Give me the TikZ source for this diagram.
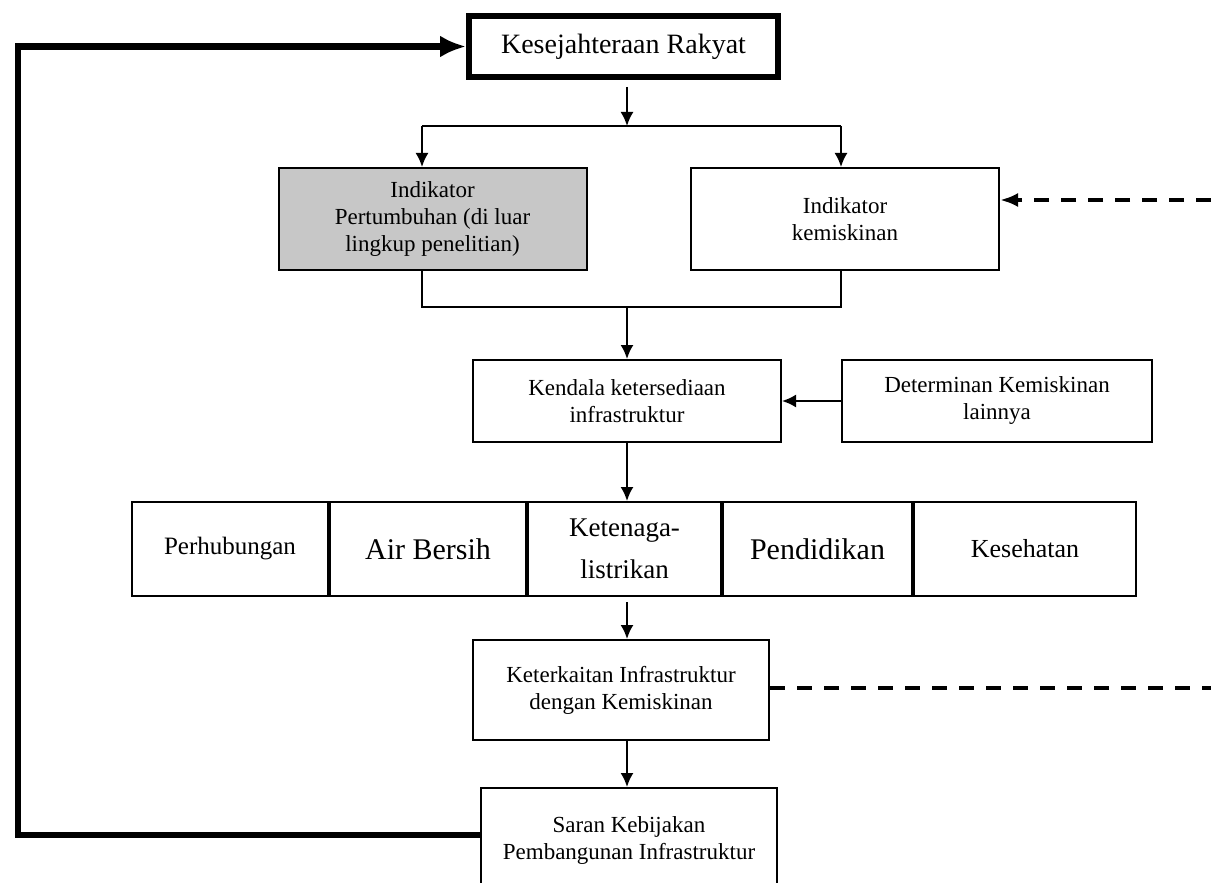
\documentclass[tikz,border=0pt]{standalone}
\usepackage{fontspec}
\setmainfont{Liberation Serif}
\usetikzlibrary{calc,arrows.meta}
\definecolor{shade}{gray}{0.78}

\begin{document}
\begin{tikzpicture}[x=0.5pt, y=-0.5pt, >={Latex[length=7pt,width=6.5pt]},
    box/.style={rectangle, draw, line width=1pt, align=center, inner sep=0pt,
      font=\fontsize{11.5}{13.5}\selectfont},
    cell/.style={box, minimum height=47pt},
    link/.style={line width=1pt, ->},
    feedback/.style={line width=3.3pt, -{Latex[length=13pt,width=11pt]}},
    dashline/.style={line width=2pt, dash pattern=on 7.5pt off 6pt}]

  \useasboundingbox (0,0) rectangle (1211,883);
  \clip (0,0) rectangle (1211,883);

  % boxes
  \node[box, line width=3pt, minimum width=154.5pt, minimum height=30.5pt,
    font=\fontsize{14}{16}\selectfont] (kesra) at (623.5,46.5) {Kesejahteraan Rakyat};
  \node[box, fill=shade, minimum width=154pt, minimum height=51pt] (indP) at (432.5,219)
    {Indikator\\Pertumbuhan (di luar\\lingkup penelitian)};
  \node[box, minimum width=154pt, minimum height=51pt] (indK) at (845,219)
    {Indikator\\kemiskinan};
  \node[box, minimum width=154pt, minimum height=41pt] (kendala) at (627,401)
    {Kendala ketersediaan\\infrastruktur};
  \node[box, minimum width=155pt, minimum height=41pt] (determinan) at (997,401)
    {Determinan Kemiskinan\\lainnya};

  % infrastructure row
  \node[cell, minimum width=98pt, font=\fontsize{12.5}{15}\selectfont] (hubung) at (230,549) {Perhubungan};
  \node[cell, minimum width=98pt, font=\fontsize{15}{18}\selectfont] (air) at (428,549) {Air Bersih};
  \node[cell, minimum width=96.5pt, font=\fontsize{13.5}{21}\selectfont] (listrik) at (624.5,549) {Ketenaga-\\listrikan};
  \node[cell, minimum width=94.5pt, font=\fontsize{15}{18}\selectfont] (didik) at (817.5,549) {Pendidikan};
  \node[cell, minimum width=111pt, font=\fontsize{13}{16}\selectfont] (sehat) at (1025,549) {Kesehatan};

  \node[box, minimum width=148pt, minimum height=50pt] (kait) at (621,690)
    {Keterkaitan Infrastruktur\\dengan Kemiskinan};
  \node[box, minimum width=148pt, minimum height=52pt] (saran) at (629,840)
    {Saran Kebijakan\\Pembangunan Infrastruktur};

  % connectors
  \coordinate (spine) at (627,0);
  \coordinate (lsplit) at (422,126);
  \coordinate (rsplit) at (841,126);
  \coordinate (join) at (627,307);
  \draw[link] ($(kesra.south -| spine)+(0,7)$) -- (spine |- lsplit);
  \draw[line width=1pt] (lsplit) -- (rsplit);
  \draw[link] (lsplit) -- (lsplit |- indP.north);
  \draw[link] (rsplit) -- (rsplit |- indK.north);
  \draw[line width=1pt] (lsplit |- indP.south) |- (join) -| (rsplit |- indK.south);
  \draw[link] (join) -- (join |- kendala.north);
  \draw[link] (determinan) -- (kendala);
  \draw[link] (kendala.south -| spine) -- (spine |- listrik.north);
  \draw[link] ($(listrik.south -| spine)+(0,5)$) -- (spine |- kait.north);
  \draw[link] (kait.south -| spine) -- (spine |- saran.north);

  % feedback loop
  \coordinate (fbcorner) at (18,835);
  \draw[feedback] (saran.west |- fbcorner) -- (fbcorner) |- (kesra.west);

  % dashed links to the right edge
  \coordinate (edgeA) at (1211,200);
  \coordinate (edgeB) at (1211,688);
  \draw[dashline, -{Latex[length=9pt,width=7pt]}] (edgeA) -- (indK.east |- edgeA);
  \draw[dashline] (kait.east |- edgeB) -- (edgeB);
\end{tikzpicture}
\end{document}
